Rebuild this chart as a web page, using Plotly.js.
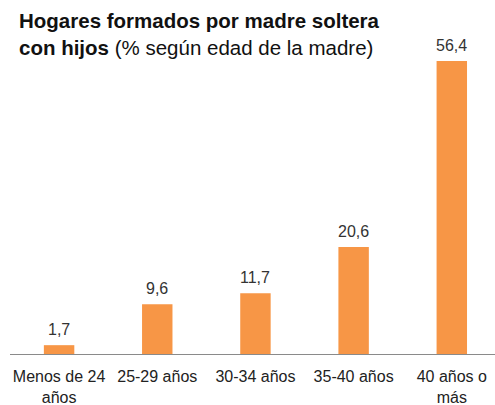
<!DOCTYPE html>
<html>
<head>
<meta charset="utf-8">
<script src="https://cdn.plot.ly/plotly-3.0.1.min.js"></script>
<style>html,body{margin:0;padding:0;background:#fff;}#chart{width:495px;height:405px;}</style>
</head>
<body>
<div id="chart"></div>
<script>
var categories = ["Menos de 24<br>años", "25-29 años", "30-34 años", "35-40 años", "40 años o<br>más"];
var values = [1.7, 9.6, 11.7, 20.6, 56.4];
var valueLabels = ["1,7", "9,6", "11,7", "20,6", "56,4"];

var FONT = 'Liberation Sans, Arial, sans-serif';

var trace = {
  type: 'bar',
  x: categories,
  y: values,
  marker: {color: '#F79646'},
  hoverinfo: 'none'
};

var annotations = categories.map(function (c, i) {
  return {
    x: c, y: values[i], xref: 'x', yref: 'y',
    text: valueLabels[i], showarrow: false,
    yanchor: 'bottom', yshift: 5,
    font: {family: FONT, size: 16, color: '#333'}
  };
});

var plotTop = 40, plotH = 405 - 40 - 51;
annotations.push({
  xref: 'paper', yref: 'paper',
  x: (17 - 10) / 485, xanchor: 'left',
  y: 1 + (plotTop - 7) / plotH, yanchor: 'top',
  align: 'left', showarrow: false,
  text: '<b>Hogares formados por madre soltera<br>con hijos</b> (% según edad de la madre)',
  font: {family: FONT, size: 20.5, color: '#111'}
});

var layout = {
  width: 495, height: 405,
  margin: {l: 10, r: 0, t: plotTop, b: 51},
  paper_bgcolor: '#fff', plot_bgcolor: '#fff',
  bargap: 0.69,
  showlegend: false,
  annotations: annotations,
  xaxis: {
    type: 'category',
    range: [-0.5, 4.44],
    showline: true, linecolor: '#8a8a8a', linewidth: 1,
    ticks: '', showgrid: false, zeroline: false,
    ticklabelstandoff: 8,
    tickfont: {family: FONT, size: 16, color: '#222'}
  },
  yaxis: {
    range: [0, 60.44],
    visible: false, showgrid: false, zeroline: false
  }
};

Plotly.newPlot('chart', [trace], layout, {displayModeBar: false, staticPlot: true});
</script>
</body>
</html>
